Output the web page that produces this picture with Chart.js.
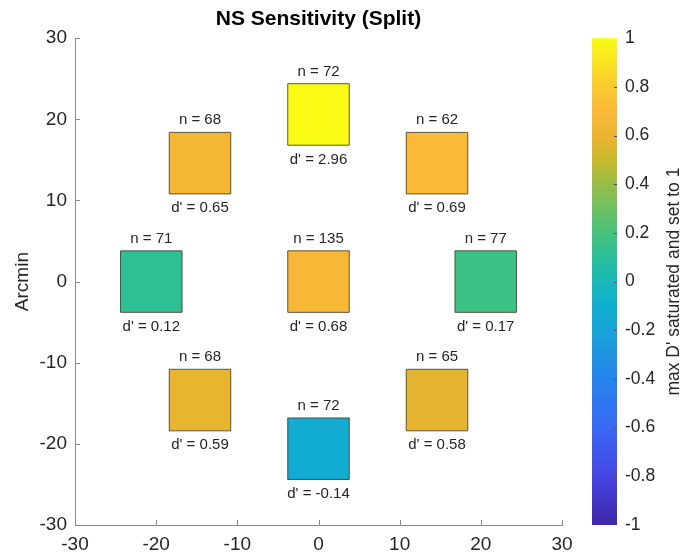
<!DOCTYPE html>
<html>
<head>
<meta charset="utf-8">
<script src="https://cdn.jsdelivr.net/npm/chart.js@4"></script>
<style>
  html, body { margin: 0; padding: 0; background: #fff; }
  #wrap { width: 687px; height: 556px; }
</style>
</head>
<body>
<div id="wrap"><canvas id="chartSens" width="687" height="556"></canvas></div>
<script>
// posisi tiap lokasi (arcmin)
const posX = [0, -14.6, 14.6, -20.6, 0, 20.6, -14.6, 14.6, 0];
const posY = [20.6, 14.6, 14.6, 0, 0, 0, -14.6, -14.6, -20.6];
// jumlah trial dan d' tiap lokasi
const nTrials = [72, 68, 62, 71, 135, 77, 68, 65, 72];
const dPrime = [2.96, 0.65, 0.69, 0.12, 0.68, 0.17, 0.59, 0.58, -0.14];

const axisTicks = [-30, -20, -10, 0, 10, 20, 30];
const cbTicks = [-1, -0.8, -0.6, -0.4, -0.2, 0, 0.2, 0.4, 0.6, 0.8, 1];
const cbLabel = "max D' saturated and set to 1";

// parula-like colormap, t dari 0..1
const cmap = [
  [0.00, 62, 38, 168],
  [0.10, 71, 70, 228],
  [0.20, 56, 104, 244],
  [0.30, 38, 132, 236],
  [0.40, 22, 164, 214],
  [0.45, 15, 175, 208],
  [0.50, 26, 184, 184],
  [0.55, 40, 190, 155],
  [0.60, 70, 195, 125],
  [0.70, 150, 190, 70],
  [0.75, 200, 185, 45],
  [0.80, 236, 180, 50],
  [0.85, 251, 185, 56],
  [0.90, 250, 202, 48],
  [1.00, 249, 251, 20]
];

const FONT = "'Liberation Sans', Arial, Helvetica, sans-serif";
const textColor = '#262626';
const axisColor = '#8c8c8c';

function colorFor(d) {
  const v = Math.max(-1, Math.min(1, d));
  const t = (v + 1) / 2;
  for (let i = 1; i < cmap.length; i++) {
    if (t <= cmap[i][0]) {
      const a = cmap[i - 1], b = cmap[i];
      const f = (t - a[0]) / (b[0] - a[0]);
      const r = Math.round(a[1] + (b[1] - a[1]) * f);
      const g = Math.round(a[2] + (b[2] - a[2]) * f);
      const bl = Math.round(a[3] + (b[3] - a[3]) * f);
      return `rgb(${r},${g},${bl})`;
    }
  }
  return 'rgb(249,251,20)';
}

const points = posX.map((x, i) => ({ x, y: posY[i] }));
const fills = dPrime.map(colorFor);

// plugin: tick ke dalam, label n / d', colorbar
const sensPlugin = {
  id: 'sensPlugin',
  afterDatasetsDraw(chart) {
    const ctx = chart.ctx;
    const meta = chart.getDatasetMeta(0);
    const half = 31;
    ctx.save();
    ctx.fillStyle = textColor;
    ctx.font = `15px ${FONT}`;
    ctx.textAlign = 'center';
    ctx.textBaseline = 'middle';
    meta.data.forEach((pt, i) => {
      ctx.fillText('n = ' + nTrials[i], pt.x, pt.y - half - 12);
      ctx.fillText("d' = " + dPrime[i].toFixed(2), pt.x, pt.y + half + 14);
    });
    ctx.restore();
  },
  afterDraw(chart) {
    const ctx = chart.ctx;
    const xs = chart.scales.x, ys = chart.scales.y, cb = chart.scales.cb;
    ctx.save();
    ctx.strokeStyle = axisColor;
    ctx.lineWidth = 1;
    ctx.beginPath();
    axisTicks.forEach(v => {
      const px = Math.round(xs.getPixelForValue(v)) + 0.5;
      ctx.moveTo(px, xs.top);
      ctx.lineTo(px, xs.top - 5);
      const py = Math.round(ys.getPixelForValue(v)) + 0.5;
      ctx.moveTo(ys.right, py);
      ctx.lineTo(ys.right + 5, py);
    });
    ctx.stroke();

    // colorbar
    const left = 592, right = 617;
    const top = cb.getPixelForValue(1), bottom = cb.getPixelForValue(-1);
    const grad = ctx.createLinearGradient(0, bottom, 0, top);
    cmap.forEach(s => grad.addColorStop(s[0], `rgb(${s[1]},${s[2]},${s[3]})`));
    ctx.fillStyle = grad;
    ctx.fillRect(left, top, right - left, bottom - top);

    ctx.strokeStyle = '#555';
    ctx.beginPath();
    cbTicks.forEach(v => {
      const py = Math.round(cb.getPixelForValue(v)) + 0.5;
      if (v > -1 && v < 1) {
        ctx.moveTo(right, py);
        ctx.lineTo(right - 3, py);
      }
    });
    ctx.stroke();

    ctx.fillStyle = textColor;
    ctx.font = `17.5px ${FONT}`;
    ctx.textAlign = 'left';
    ctx.textBaseline = 'middle';
    cbTicks.forEach(v => {
      const lbl = String(Math.round(v * 10) / 10);
      ctx.fillText(lbl, 625, cb.getPixelForValue(v));
    });

    ctx.translate(674, (top + bottom) / 2);
    ctx.rotate(-Math.PI / 2);
    ctx.textAlign = 'center';
    ctx.fillText(cbLabel, 0, 0);
    ctx.restore();
  }
};

new Chart(document.getElementById('chartSens').getContext('2d'), {
  type: 'scatter',
  data: {
    datasets: [{
      data: points,
      pointStyle: 'rect',
      pointRadius: 43.5,
      pointHoverRadius: 43.5,
      backgroundColor: fills,
      borderColor: 'rgba(70,60,40,0.85)',
      borderWidth: 1
    }]
  },
  options: {
    responsive: false,
    animation: false,
    events: [],
    // autoPadding dimatikan, kalau tidak area plot menyusut karena kotak besar
    layout: { autoPadding: false, padding: { left: 0, right: 125, top: 0, bottom: 0 } },
    scales: {
      x: {
        type: 'linear',
        min: -30,
        max: 30,
        afterFit: s => { s.height = 31; },
        afterBuildTicks: s => { s.ticks = axisTicks.map(v => ({ value: v })); },
        grid: { display: false, drawTicks: false },
        border: { display: true, color: axisColor, width: 1 },
        ticks: { font: { family: FONT, size: 19 }, color: textColor, padding: 8, maxRotation: 0 }
      },
      y: {
        type: 'linear',
        min: -30,
        max: 30,
        afterFit: s => { s.width = 75; },
        afterBuildTicks: s => { s.ticks = axisTicks.map(v => ({ value: v })); },
        grid: { display: false, drawTicks: false },
        border: { display: true, color: axisColor, width: 1 },
        ticks: { font: { family: FONT, size: 19 }, color: textColor, padding: 8 },
        title: { display: true, text: 'Arcmin', font: { family: FONT, size: 19 }, color: textColor, padding: { top: 11, bottom: 0 } }
      },
      cb: {
        type: 'linear',
        position: 'right',
        min: -1,
        max: 1,
        display: false
      }
    },
    plugins: {
      legend: { display: false },
      tooltip: { enabled: false },
      title: {
        display: true,
        text: 'NS Sensitivity (Split)',
        fullSize: false,
        color: '#000',
        font: { family: FONT, size: 21, weight: 'bold' },
        padding: { top: 7, bottom: 6 }
      }
    }
  },
  plugins: [sensPlugin]
});
</script>
</body>
</html>
